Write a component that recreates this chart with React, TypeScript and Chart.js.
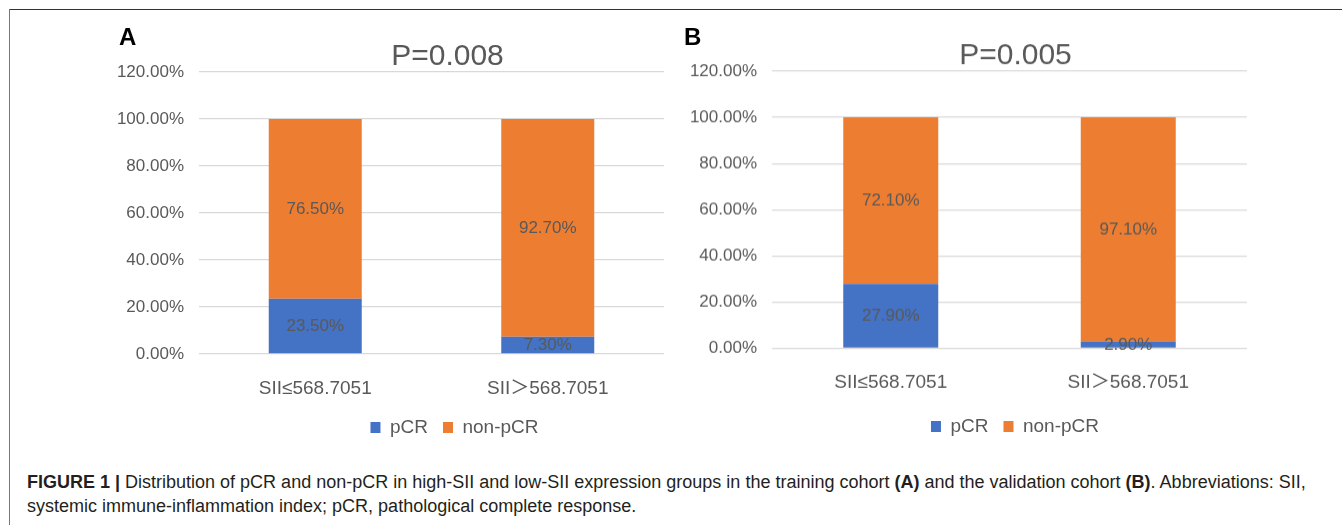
import React, { useEffect, useRef } from "react";
import { Chart, registerables } from "chart.js";

Chart.register(...registerables);

// ---------- data ----------
const categories = ["SII≤568.7051", "SII＞568.7051"];
const seriesNames = ["pCR", "non-pCR"];
const trainingPCR = [23.5, 7.3];
const trainingNonPCR = [76.5, 92.7];
const validationPCR = [27.9, 2.9];
const validationNonPCR = [72.1, 97.1];
const yMin = 0;
const yMax = 120;
const yStep = 20;
const pTitles = ["P=0.008", "P=0.005"];
const panelLetters = ["A", "B"];
const captionBold = "FIGURE 1 |";
const captionLine1 =
  " Distribution of pCR and non-pCR in high-SII and low-SII expression groups in the training cohort ";
const captionMid = " and the validation cohort ";
const captionEnd = ". Abbreviations: SII,";
const captionLine2 = "systemic immune-inflammation index; pCR, pathological complete response.";

// ---------- styles ----------
const BLUE = "#4472C4";
const ORANGE = "#ED7D31";
const GREY_TEXT = "#595959";
const GRID = "#D9D9D9";
const FONT = "'Liberation Sans', 'Noto Sans CJK SC', Arial, sans-serif";

const panels = [
  {
    left: 99,
    width: 565,
    height: 447,
    titlePadTop: 42,
    xAxisHeight: 49,
    xPad: 15,
    titleCenter: 348.5,
    legendCenter: 355.5,
    pcr: trainingPCR,
    non: trainingNonPCR,
    title: pTitles[0],
  },
  {
    left: 672,
    width: 575,
    height: 445.5,
    titlePadTop: 41,
    xAxisHeight: 53.5,
    xPad: 15,
    titleCenter: 343.5,
    legendCenter: 343,
    pcr: validationPCR,
    non: validationNonPCR,
    title: pTitles[1],
  },
];

const shiftPlugin = {
  id: "shiftBlocks",
  afterLayout(chart: any, _args: any, opts: any) {
    const t = chart.titleBlock;
    if (t && opts.titleCenter != null) {
      const d = opts.titleCenter - (t.left + t.right) / 2;
      t.left += d;
      t.right += d;
    }
    const l = chart.legend;
    if (l && opts.legendCenter != null) {
      const d = opts.legendCenter - (l.left + l.right) / 2;
      l.left += d;
      l.right += d;
    }
  },
};

const valueLabelPlugin = {
  id: "valueLabels",
  afterDatasetsDraw(chart: any) {
    const ctx = chart.ctx;
    ctx.save();
    ctx.font = `17px ${FONT}`;
    ctx.fillStyle = GREY_TEXT;
    ctx.textAlign = "center";
    ctx.textBaseline = "middle";
    chart.data.datasets.forEach((ds: any, i: number) => {
      const meta = chart.getDatasetMeta(i);
      meta.data.forEach((el: any, j: number) => {
        const p = el.getCenterPoint();
        ctx.fillText(Number(ds.data[j]).toFixed(2) + "%", p.x, p.y);
      });
    });
    ctx.restore();
  },
};

function Panel({ cfg }: { cfg: any }) {
  const ref = useRef<HTMLCanvasElement>(null);
  useEffect(() => {
    const chart = new Chart(ref.current as HTMLCanvasElement, {
      type: "bar",
      data: {
        labels: categories,
        datasets: [
          {
            label: seriesNames[0],
            data: cfg.pcr,
            backgroundColor: BLUE,
            borderWidth: 0,
            barPercentage: 0.4,
            categoryPercentage: 1,
          },
          {
            label: seriesNames[1],
            data: cfg.non,
            backgroundColor: ORANGE,
            borderWidth: 0,
            barPercentage: 0.4,
            categoryPercentage: 1,
          },
        ],
      },
      options: {
        responsive: false,
        animation: false,
        events: [],
        layout: { padding: 0 },
        scales: {
          x: {
            stacked: true,
            grid: { display: false },
            border: { display: false },
            ticks: {
              color: GREY_TEXT,
              font: { family: FONT, size: 19 },
              padding: cfg.xPad,
              maxRotation: 0,
            },
            afterFit: (s: any) => {
              s.height = cfg.xAxisHeight;
            },
          },
          y: {
            stacked: true,
            min: yMin,
            max: yMax,
            grid: { color: GRID, lineWidth: 1.3, drawTicks: false },
            border: { display: false },
            ticks: {
              stepSize: yStep,
              color: GREY_TEXT,
              font: { family: FONT, size: 17 },
              padding: 15,
              callback: (v: any) => Number(v).toFixed(2) + "%",
            },
            afterFit: (s: any) => {
              s.width = 100;
            },
          },
        },
        plugins: {
          tooltip: { enabled: false },
          title: {
            display: true,
            text: cfg.title,
            color: GREY_TEXT,
            font: { family: FONT, size: 30, weight: "normal", lineHeight: 1 },
            padding: { top: cfg.titlePadTop, bottom: 0 },
          },
          legend: {
            display: true,
            position: "bottom",
            labels: {
              color: GREY_TEXT,
              font: { family: FONT, size: 19 },
              boxWidth: 10,
              boxHeight: 11,
              padding: 15,
            },
          },
          shiftBlocks: { titleCenter: cfg.titleCenter, legendCenter: cfg.legendCenter },
        } as any,
      },
      plugins: [shiftPlugin, valueLabelPlugin],
    });
    return () => chart.destroy();
  }, []);
  return (
    <canvas
      ref={ref}
      width={cfg.width}
      height={cfg.height}
      style={{ position: "absolute", left: cfg.left, top: 0, width: cfg.width, height: cfg.height }}
    />
  );
}

export default function App() {
  return (
    <div
      style={{
        position: "fixed",
        left: 0,
        top: 0,
        width: 1342,
        height: 525,
        background: "#fff",
        overflow: "hidden",
      }}
    >
      <div style={{ position: "absolute", left: 9, top: 8.5, width: 1333, height: 1.5, background: "#333" }} />
      <div style={{ position: "absolute", left: 8.5, top: 9, width: 1.2, height: 516, background: "#777" }} />
      {panels.map((p, i) => (
        <Panel key={i} cfg={p} />
      ))}
      {[119, 684].map((x, i) => (
        <div
          key={i}
          style={{
            position: "absolute",
            left: x,
            top: 25,
            fontFamily: FONT,
            fontWeight: "bold",
            fontSize: 24,
            lineHeight: "24px",
            color: "#000",
          }}
        >
          {panelLetters[i]}
        </div>
      ))}
      <div
        style={{
          position: "absolute",
          left: 27,
          top: 470,
          fontFamily: FONT,
          fontSize: 18,
          lineHeight: "24px",
          color: "#231f20",
          whiteSpace: "nowrap",
        }}
      >
        <div>
          <b>{captionBold}</b>
          {captionLine1}
          <b>(A)</b>
          {captionMid}
          <b>(B)</b>
          {captionEnd}
        </div>
        <div>{captionLine2}</div>
      </div>
    </div>
  );
}
